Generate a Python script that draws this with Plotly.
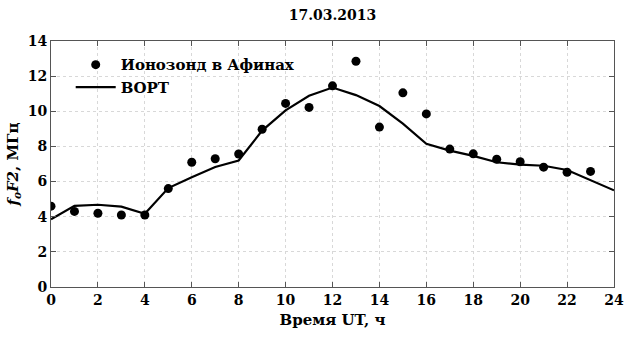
import plotly.graph_objects as go

hours_obs = list(range(0, 24))
ionosonde = [4.6, 4.3, 4.2, 4.1, 4.1, 5.6, 7.1, 7.3, 7.57, 8.98, 10.45, 10.22,
             11.45, 12.85, 9.1, 11.05, 9.85, 7.85, 7.58, 7.27, 7.13, 6.82, 6.53, 6.58]
hours_model = list(range(0, 25))
vort = [3.85, 4.62, 4.68, 4.57, 4.17, 5.63, 6.25, 6.83, 7.2, 8.9, 10.05, 10.88,
        11.35, 10.92, 10.3, 9.3, 8.15, 7.76, 7.46, 7.1, 6.97, 6.9, 6.66, 6.1, 5.5]

title_text = "17.03.2013"
x_title = "Время UT, ч"
y_title = "<i>f<sub>o</sub>F2</i>, МГц"
name_obs = "Ионозонд в Афинах"
name_model = "ВОРТ"

font_fam = "DejaVu Serif"

fig = go.Figure()
fig.add_trace(go.Scatter(x=hours_obs, y=ionosonde, mode="markers", name=name_obs,
                         marker=dict(color="black", size=9)))
fig.add_trace(go.Scatter(x=hours_model, y=vort, mode="lines", name=name_model,
                         line=dict(color="black", width=2.2)))

axis_common = dict(showline=True, linecolor="#555", linewidth=1, mirror="ticks",
                   ticks="inside", ticklen=5, tickcolor="#555",
                   showgrid=True, gridcolor="#d8d8d8", griddash="dot", gridwidth=1,
                   zeroline=False,
                   tickfont=dict(family=font_fam, size=14, color="black", weight="bold"))

fig.update_layout(
    width=635, height=337,
    margin=dict(l=51, r=11, t=41, b=50),
    plot_bgcolor="white", paper_bgcolor="white",
    font=dict(family=font_fam, color="black"),
    title=dict(text="<b>" + title_text + "</b>", x=0.5, xanchor="center", y=0.955, yanchor="middle",
               xref="paper",
               font=dict(family=font_fam, size=14, color="black")),
    xaxis=dict(range=[0, 24], dtick=2, **axis_common,
               title=dict(text="<b>" + x_title + "</b>", standoff=7,
                          font=dict(family=font_fam, size=15, color="black"))),
    yaxis=dict(range=[0, 14], dtick=2, **axis_common,
               title=dict(text="<b>" + y_title + "</b>", standoff=5,
                          font=dict(family=font_fam, size=15, color="black"))),
    legend=dict(x=0.035, y=0.97, xanchor="left", yanchor="top", bgcolor="rgba(0,0,0,0)",
                font=dict(family=font_fam, size=15, color="black", weight="bold"),
                itemwidth=40, tracegroupgap=0),
    showlegend=True,
)

fig.write_html("out.html")
